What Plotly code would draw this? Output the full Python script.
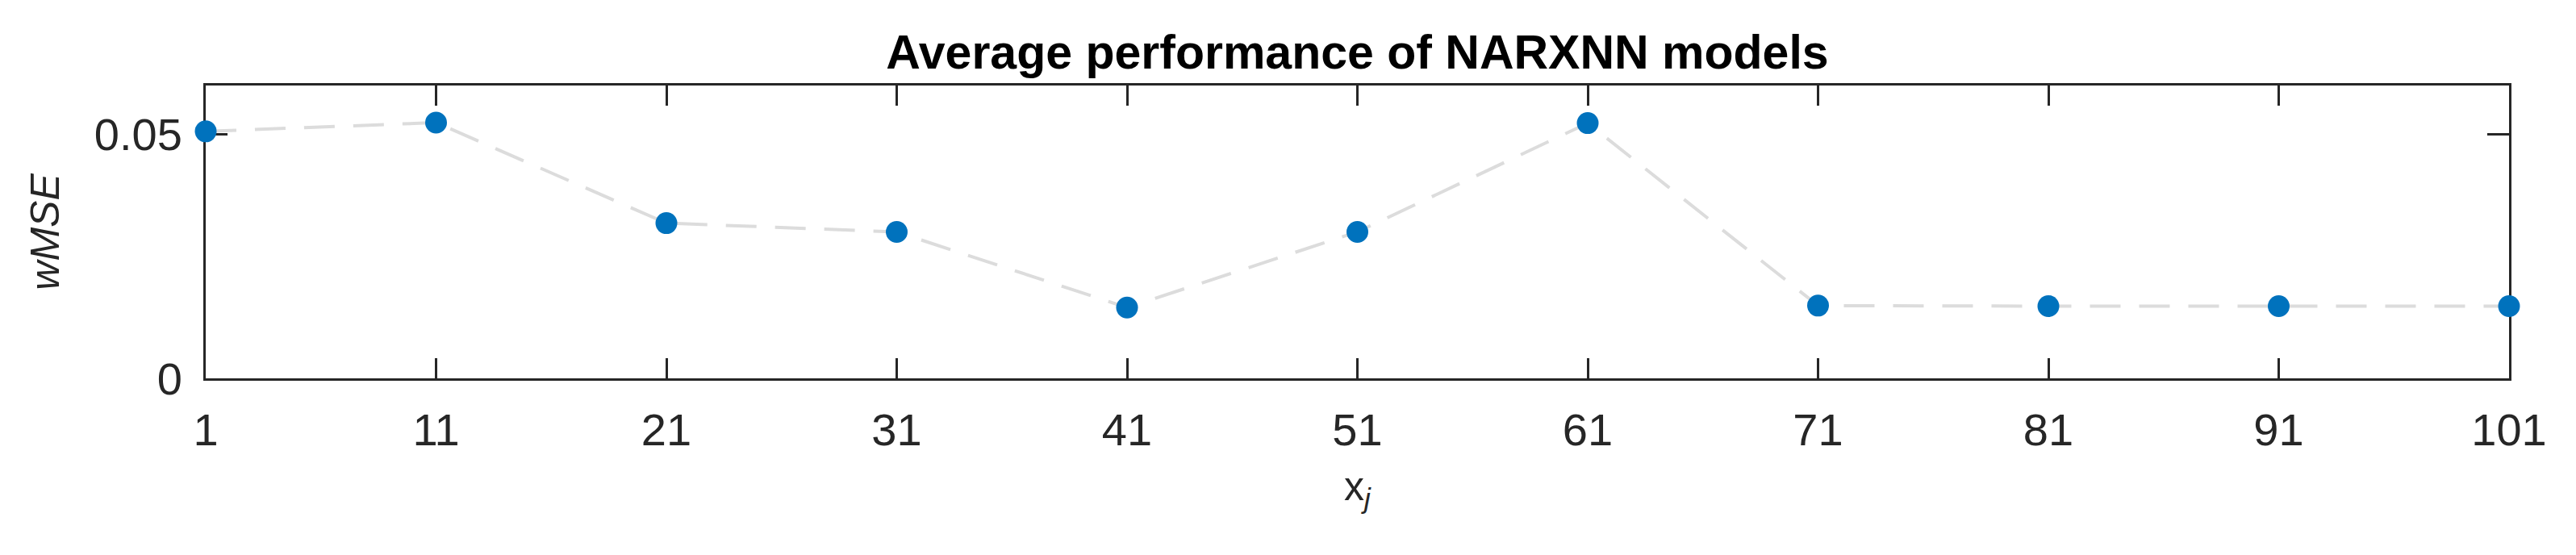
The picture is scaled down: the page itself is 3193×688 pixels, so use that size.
import plotly.graph_objects as go

x_vals = [1, 11, 21, 31, 41, 51, 61, 71, 81, 91, 101]
wmse = [0.0506, 0.0524, 0.0318, 0.0300, 0.0145, 0.0300, 0.0523, 0.0149, 0.0148, 0.0148, 0.0148]
x_ticks = [1, 11, 21, 31, 41, 51, 61, 71, 81, 91, 101]
y_ticks = [0, 0.05]
y_ticktext = ["0", "0.05"]

AX = "#262626"
FONT = "Liberation Sans, Arial, Helvetica, sans-serif"

fig = go.Figure()
fig.add_trace(go.Scatter(
    x=x_vals, y=wmse, mode="lines+markers",
    line=dict(color="#DCDCDC", width=4, dash="38px,23px"),
    marker=dict(color="#0072BD", size=27, line=dict(width=0)),
    cliponaxis=False, showlegend=False,
))

fig.update_layout(
    width=3193, height=688,
    margin=dict(l=247, r=91, t=98, b=227),
    paper_bgcolor="white", plot_bgcolor="white",
    font=dict(family=FONT, color=AX),
    title=dict(text="<b>Average performance of NARXNN models</b>",
               x=0.5, xref="paper", xanchor="center",
               y=1 - 56 / 688, yref="container", yanchor="middle",
               font=dict(family=FONT, size=59, color="#000000")),
    xaxis=dict(
        range=[1, 101], tickvals=x_ticks, ticktext=[str(v) for v in x_ticks],
        showline=True, linecolor=AX, linewidth=3, mirror="ticks",
        ticks="inside", ticklen=25, tickwidth=3, tickcolor=AX,
        showgrid=False, zeroline=False, layer="below traces",
        tickfont=dict(size=56, color=AX), ticklabelstandoff=13,
        title=dict(text="x<sub><i>j</i></sub>", font=dict(size=50, color=AX), standoff=22),
    ),
    yaxis=dict(
        range=[0, 0.06], tickvals=y_ticks, ticktext=y_ticktext,
        showline=True, linecolor=AX, linewidth=3, mirror="ticks",
        ticks="inside", ticklen=27, tickwidth=3, tickcolor=AX,
        showgrid=False, zeroline=False, layer="below traces",
        tickfont=dict(size=56, color=AX), ticklabelstandoff=15,
        title=dict(text="<i>wMSE</i>", font=dict(size=50, color=AX), standoff=28),
    ),
)

fig.write_html("out.html")
